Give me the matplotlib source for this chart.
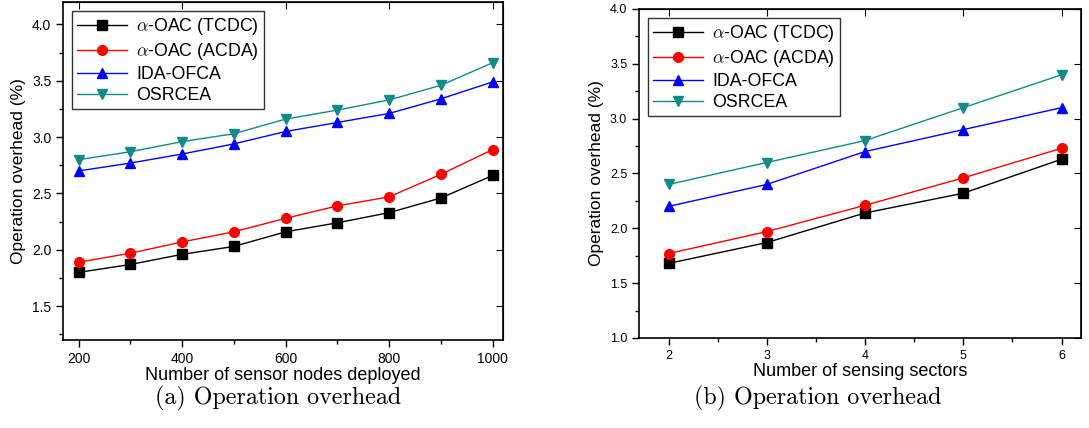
import matplotlib.pyplot as plt
from matplotlib.ticker import MultipleLocator

plt.rcParams['font.family'] = ['Liberation Sans', 'DejaVu Sans']
plt.rcParams['mathtext.fontset'] = 'cm'

# data (a): operation overhead vs. number of sensor nodes
nodes = [200, 300, 400, 500, 600, 700, 800, 900, 1000]
tcdc_a = [1.80, 1.87, 1.96, 2.03, 2.16, 2.24, 2.33, 2.46, 2.66]
acda_a = [1.89, 1.97, 2.07, 2.16, 2.28, 2.39, 2.47, 2.67, 2.89]
idaofca_a = [2.70, 2.77, 2.85, 2.94, 3.05, 3.13, 3.21, 3.34, 3.49]
osrcea_a = [2.80, 2.87, 2.96, 3.03, 3.16, 3.24, 3.33, 3.46, 3.66]

# data (b): operation overhead vs. number of sensing sectors
sectors = [2, 3, 4, 5, 6]
tcdc_b = [1.68, 1.87, 2.14, 2.32, 2.63]
acda_b = [1.77, 1.97, 2.21, 2.46, 2.73]
idaofca_b = [2.20, 2.40, 2.70, 2.90, 3.10]
osrcea_b = [2.40, 2.60, 2.80, 3.10, 3.40]

labels = [r'$\alpha$-OAC (TCDC)', r'$\alpha$-OAC (ACDA)', 'IDA-OFCA', 'OSRCEA']
colors = ['black', 'red', 'blue', '#108a8a']
markers = ['s', 'o', '^', 'v']


def style_axes(ax, fs):
    ax.tick_params(axis='both', which='both', direction='out', labelsize=fs)
    ax.tick_params(which='major', length=5, width=1)
    ax.tick_params(which='minor', length=3, width=1)
    # mirrored ticks on top / right pointing inward
    sec_x = ax.secondary_xaxis('top')
    sec_x.tick_params(which='both', direction='in', labeltop=False, length=5)
    sec_x.set_xticks(ax.get_xticks())
    sec_x.set_xticklabels([])
    sec_y = ax.secondary_yaxis('right')
    sec_y.tick_params(which='both', direction='in', labelright=False, length=5)
    sec_y.set_yticks(ax.get_yticks())
    sec_y.set_yticklabels([])
    for s in ax.spines.values():
        s.set_linewidth(1.2)


def add_legend(ax):
    ax.legend(loc='upper left', bbox_to_anchor=(0.0, 1.0), fontsize=12.8,
              frameon=True, fancybox=False, edgecolor='black', handlelength=2.8,
              borderpad=0.3, labelspacing=0.22, handletextpad=0.5)


fig = plt.figure(figsize=(10.89, 4.28), dpi=100)
ax1 = fig.add_axes([0.0579, 0.2056, 0.404, 0.790])
ax2 = fig.add_axes([0.5868, 0.2103, 0.406, 0.7687])

series_a = [tcdc_a, acda_a, idaofca_a, osrcea_a]
for y, lab, c, m in zip(series_a, labels, colors, markers):
    ax1.plot(nodes, y, color=c, marker=m, markersize=7, linewidth=1, label=lab)
ax1.set_xlim(170, 1020)
ax1.set_ylim(1.2, 4.2)
ax1.set_xticks([200, 400, 600, 800, 1000])
ax1.xaxis.set_minor_locator(MultipleLocator(100))
ax1.set_yticks([1.5, 2.0, 2.5, 3.0, 3.5, 4.0])
ax1.yaxis.set_minor_locator(MultipleLocator(0.25))
ax1.set_xlabel('Number of sensor nodes deployed', fontsize=13, labelpad=1)
ax1.set_ylabel('Operation overhead (%)', fontsize=12.5, labelpad=4)
style_axes(ax1, 10)
add_legend(ax1)

series_b = [tcdc_b, acda_b, idaofca_b, osrcea_b]
for y, lab, c, m in zip(series_b, labels, colors, markers):
    ax2.plot(sectors, y, color=c, marker=m, markersize=7, linewidth=1, label=lab)
ax2.set_xlim(1.7, 6.2)
ax2.set_ylim(1.0, 4.0)
ax2.set_xticks(sectors)
ax2.xaxis.set_minor_locator(MultipleLocator(0.5))
ax2.set_yticks([1.0, 1.5, 2.0, 2.5, 3.0, 3.5, 4.0])
ax2.yaxis.set_minor_locator(MultipleLocator(0.25))
ax2.set_xlabel('Number of sensing sectors', fontsize=13, labelpad=1)
ax2.set_ylabel('Operation overhead (%)', fontsize=12.5, labelpad=4)
style_axes(ax2, 9)
add_legend(ax2)

fig.text(0.2557, 0.07, '(a) Operation overhead', ha='center', va='center',
         fontsize=17.3, family='cmr10')
fig.text(0.7511, 0.07, '(b) Operation overhead', ha='center', va='center',
         fontsize=17.3, family='cmr10')

fig.savefig('out.png', dpi=100)
